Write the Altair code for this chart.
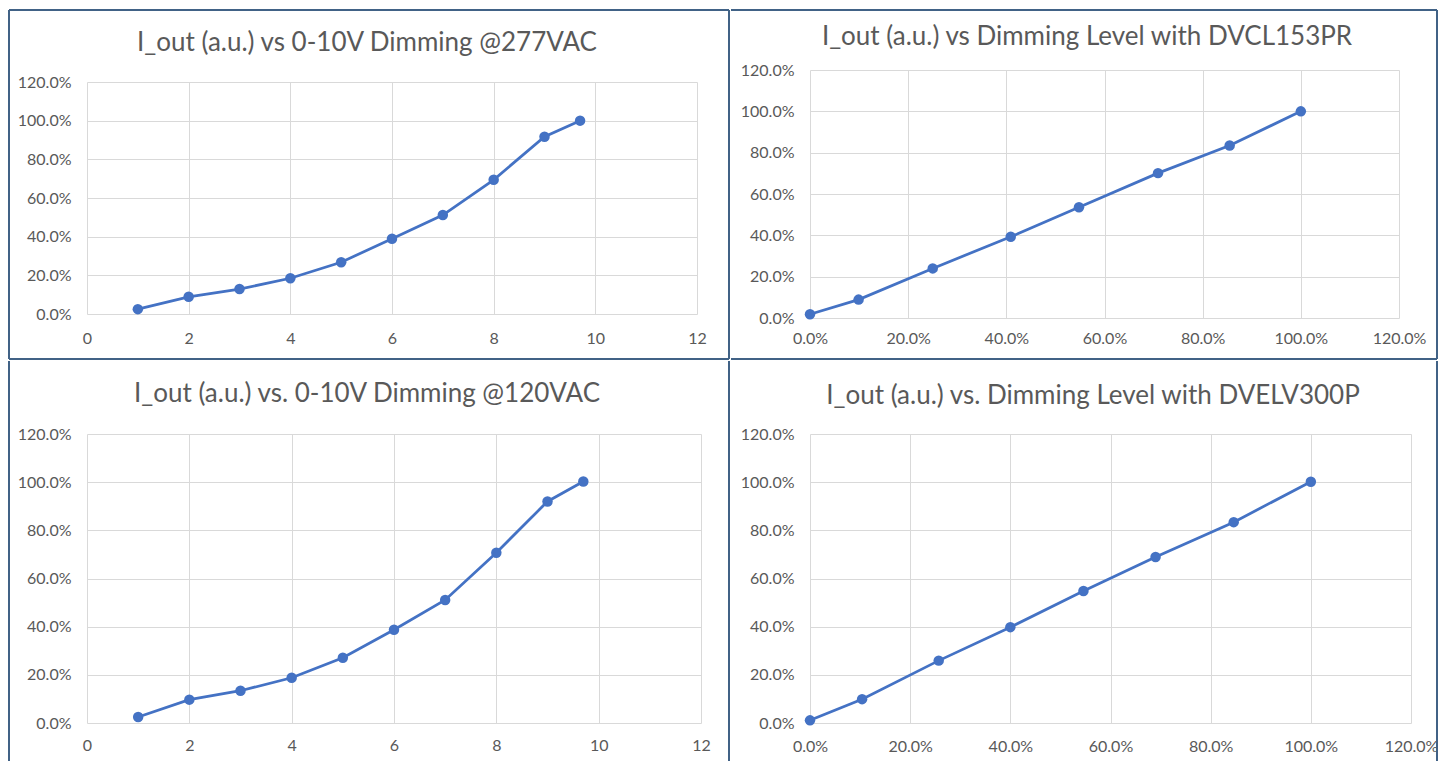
import altair as alt
import pandas as pd

# ---------------- data ----------------
p1_title = "I_out (a.u.) vs 0-10V Dimming @277VAC"
p1_x = [1, 2, 3, 4, 5, 6, 7, 8, 9, 9.7]
p1_y = [0.025, 0.089, 0.129, 0.185, 0.268, 0.389, 0.512, 0.694, 0.917, 1.000]

p2_title = "I_out (a.u.) vs Dimming Level with DVCL153PR"
p2_x = [0.0, 0.099, 0.250, 0.409, 0.548, 0.709, 0.855, 1.000]
p2_y = [0.018, 0.089, 0.240, 0.393, 0.536, 0.701, 0.835, 1.000]

p3_title = "I_out (a.u.) vs. 0-10V Dimming @120VAC"
p3_x = [1, 2, 3, 4, 5, 6, 7, 8, 9, 9.7]
p3_y = [0.025, 0.097, 0.134, 0.188, 0.271, 0.387, 0.511, 0.707, 0.920, 1.003]

p4_title = "I_out (a.u.) vs. Dimming Level with DVELV300P"
p4_x = [0.0, 0.104, 0.257, 0.400, 0.546, 0.690, 0.846, 1.000]
p4_y = [0.011, 0.099, 0.259, 0.398, 0.548, 0.689, 0.834, 1.002]

volt_ticks = [0, 2, 4, 6, 8, 10, 12]
pct_ticks = [0, 0.2, 0.4, 0.6, 0.8, 1.0, 1.2]

# ---------------- styles ----------------
BLUE = "#4472C4"
GREY = "#595959"
GRID = "#d9d9d9"
BORDER = "#416286"
FONT = "Lato"


def axis(vals, fmt, pad):
    return alt.Axis(
        values=vals, format=fmt, title=None, grid=True, gridColor=GRID,
        gridWidth=1, domain=False, ticks=False, tickSize=0,
        labelFont=FONT, labelFontSize=16, labelColor=GREY,
        labelPadding=pad, labelFlush=False, labelOverlap=False, labelBound=False,
    )


def panel(xs, ys, title, w, h, L, R, T, B, pct_x, xpad, tx, ty, borders):
    df = pd.DataFrame({"x": xs, "y": ys})
    if pct_x:
        xenc = alt.X("x:Q", scale=alt.Scale(domain=[0, 1.2], nice=False),
                     axis=axis(pct_ticks, ".1%", xpad))
    else:
        xenc = alt.X("x:Q", scale=alt.Scale(domain=[0, 12], nice=False),
                     axis=axis(volt_ticks, "d", xpad))
    yenc = alt.Y("y:Q", scale=alt.Scale(domain=[0, 1.2], nice=False),
                 axis=axis(pct_ticks, ".1%", 16))
    base = alt.Chart(df)
    line = base.mark_line(color=BLUE, strokeWidth=2.75).encode(x=xenc, y=yenc)
    pts = base.mark_circle(color=BLUE, size=110, opacity=1).encode(x=xenc, y=yenc)

    one = pd.DataFrame({"t": [title]})
    frame = alt.Chart(one).mark_rect(fillOpacity=0, strokeOpacity=0).encode(
        x=alt.value(-L), x2=alt.value(w + R), y=alt.value(-T), y2=alt.value(h + B))
    ttl = alt.Chart(one).mark_text(
        font=FONT, fontSize=26, color=GREY, baseline="middle", align="center"
    ).encode(x=alt.value(tx), y=alt.value(ty), text="t:N")

    layers = [frame, line, pts, ttl]
    for kind, a, b1, b2 in borders:
        if kind == "v":
            enc = dict(x=alt.value(a), y=alt.value(b1), y2=alt.value(b2))
        else:
            enc = dict(y=alt.value(a), x=alt.value(b1), x2=alt.value(b2))
        layers.append(alt.Chart(one).mark_rule(color=BORDER, strokeWidth=2).encode(**enc))
    return alt.layer(*layers).properties(width=w, height=h)


def spacer():
    # tiny block so that the first real panel of each column is laid out
    # by its own bounds (frame tops line up instead of plot tops)
    one = pd.DataFrame({"t": [""]})
    return alt.Chart(one).mark_rect(opacity=0).encode(
        x=alt.value(0), x2=alt.value(0), y=alt.value(0), y2=alt.value(0)
    ).properties(width=1, height=1)


# top-left
w1, h1, L1, R1, T1, B1 = 610, 232, 79, 33, 73, 46
p1 = panel(p1_x, p1_y, p1_title, w1, h1, L1, R1, T1, B1, False, 16, 280, -39, [
    ("v", -L1 + 1, -T1 + 1, h1 + B1 - 1),
    ("h", -T1 + 1, -L1 + 1, w1 + R1 - 1),
    ("v", w1 + R1 - 1, -T1 + 1, h1 + B1 - 1),
    ("h", h1 + B1 - 1, -L1 + 1, w1 + R1 - 1),
])
# top-right
w2, h2, L2, R2, T2, B2 = 589, 248, 80, 39, 61, 42
p2 = panel(p2_x, p2_y, p2_title, w2, h2, L2, R2, T2, B2, True, 12, 277, -33, [
    ("h", -T2 + 1, -L2 + 1, w2 + R2 - 1),
    ("v", w2 + R2 - 1, -T2 + 1, h2 + B2 - 1),
    ("h", h2 + B2 - 1, -L2 + 1, w2 + R2 - 1),
])
# bottom-left
w3, h3, L3, R3, T3, B3 = 614, 289, 79, 29, 74, 39
p3 = panel(p3_x, p3_y, p3_title, w3, h3, L3, R3, T3, B3, False, 14, 280, -40, [
    ("v", -L3 + 1, -T3 + 1, h3 + B3 - 1),
    ("v", w3 + R3 - 1, -T3 + 1, h3 + B3 - 1),
])
# bottom-right
w4, h4, L4, R4, T4, B4 = 601, 289, 80, 27, 74, 39
p4 = panel(p4_x, p4_y, p4_title, w4, h4, L4, R4, T4, B4, True, 15, 283, -38, [
    ("v", w4 + R4 - 1, -T4 + 1, h4 + B4 - 1),
])

col1 = alt.vconcat(spacer(), p1, p3, spacing=0)
col2 = alt.vconcat(spacer(), p2, p4, spacing=0)
chart = (
    alt.hconcat(col1, col2, spacing=0)
    .properties(padding=0, background="white")
    .configure_view(stroke=None)
)

chart.save("out.html", embed_options={"renderer": "svg", "actions": False})
